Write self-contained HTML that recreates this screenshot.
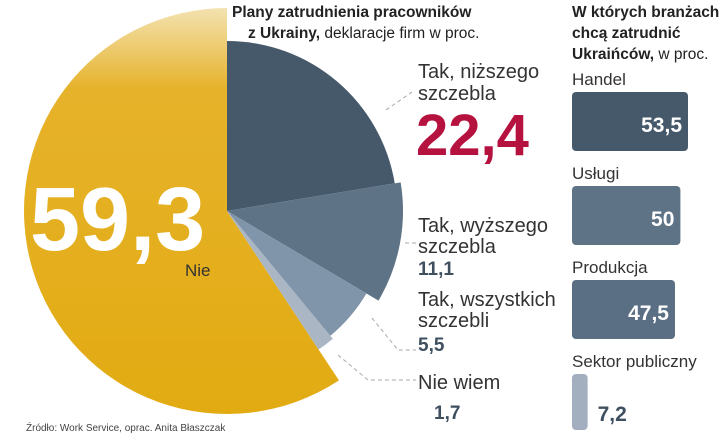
<!DOCTYPE html>
<html><head><meta charset="utf-8"><style>
body{margin:0;background:#fff;width:720px;height:434px;overflow:hidden;font-family:"Liberation Sans",sans-serif}
svg{position:absolute;left:0;top:0}
</style></head><body>
<svg id="c" width="720" height="434">
<defs><linearGradient id="yg" x1="0" y1="0" x2="0" y2="1">
<stop offset="0" stop-color="#f3e2b0"/><stop offset="0.2" stop-color="#e6b22a"/><stop offset="1" stop-color="#e2ab12"/></linearGradient></defs>
<g id="pie"></g>
<g id="bars"></g>
<text x="232" y="17" font-size="15.5" font-weight="bold" fill="#222">Plany zatrudnienia pracowników</text>
<text x="248" y="38" font-size="15.5" fill="#222"><tspan font-weight="bold">z Ukrainy,</tspan> deklaracje firm w proc.</text>
<text x="572" y="17" font-size="15.5" font-weight="bold" fill="#222">W których branżach</text>
<text x="572" y="38" font-size="15.5" font-weight="bold" fill="#222">chcą zatrudnić</text>
<text x="572" y="59" font-size="15.5" fill="#222"><tspan font-weight="bold">Ukraińców,</tspan> w proc.</text>
<text x="30" y="250" font-size="90" font-weight="bold" fill="#fff">59,3</text>
<text x="185" y="276" font-size="17" fill="#333">Nie</text>
<text x="418" y="78" font-size="20" fill="#333">Tak, niższego</text>
<text x="418" y="100" font-size="20" fill="#333">szczebla</text>
<text x="416" y="155" font-size="58" font-weight="bold" fill="#b5123f">22,4</text>
<text x="418" y="232" font-size="20" fill="#333">Tak, wyższego</text>
<text x="418" y="253" font-size="20" fill="#333">szczebla</text>
<text x="418" y="275" font-size="19" font-weight="bold" fill="#3e4f60">11,1</text>
<text x="418" y="306" font-size="20" fill="#333">Tak, wszystkich</text>
<text x="418" y="327" font-size="20" fill="#333">szczebli</text>
<text x="418" y="351" font-size="19" font-weight="bold" fill="#3e4f60">5,5</text>
<text x="418" y="389" font-size="20" fill="#333">Nie wiem</text>
<text x="434" y="419" font-size="19" font-weight="bold" fill="#3e4f60">1,7</text>
<text x="26" y="431" font-size="10" fill="#444">Źródło: Work Service, oprac. Anita Błaszczak</text>
<g stroke="#aaa" stroke-dasharray="4,3" fill="none">
<path d="M386,110 L412,92"/><path d="M405,243 L418,243"/><path d="M372,318 L398,350 L416,350"/><path d="M338,355 L368,380 L416,380"/>
</g>
</svg>
<script>
const pieLabels=["Nie","Tak, niższego szczebla","Tak, wyższego szczebla","Tak, wszystkich szczebli","Nie wiem"];
const pieValues=[59.3,22.4,11.1,5.5,1.7];
const barCategories=["Handel","Usługi","Produkcja","Sektor publiczny"];
const barValues=[53.5,50,47.5,7.2];
const barValueLabels=["53,5","50","47,5","7,2"];
const NS="http://www.w3.org/2000/svg";
const cx=227,cy=211;
const radii=[203,170,176,162,166];
const colors=["url(#yg)","#46596b","#5f7387","#8195aa","#aab6c4"];
const total=pieValues.reduce((a,b)=>a+b,0);
function pt(a,r){return [cx+r*Math.sin(a),cy-r*Math.cos(a)];}
const pie=document.getElementById('pie');
let start=0;
pieValues.forEach((v,i)=>{
  const sweep=v/total*2*Math.PI;
  let a0,a1;
  if(i===0){a0=-sweep;a1=0;}else{a0=start;a1=start+sweep;start=a1;}
  const r=radii[i];
  const p0=pt(a0,r),p1=pt(a1,r);
  const d=`M${cx},${cy} L${p0[0]},${p0[1]} A${r},${r} 0 ${sweep>Math.PI?1:0} 1 ${p1[0]},${p1[1]} Z`;
  const p=document.createElementNS(NS,'path');
  p.setAttribute('d',d);p.setAttribute('fill',colors[i]);
  
  
  pie.appendChild(p);
});
const bars=document.getElementById('bars');
const bx=572,scale=116/53.5,bh=59,step=94;
const bcol=["#46596b","#5f7387","#5b6f84","#a3afbe"];
barCategories.forEach((c,i)=>{
  const y0=65+i*step;
  const t=document.createElementNS(NS,'text');
  t.setAttribute('x',bx);t.setAttribute('y',y0+20);t.setAttribute('font-size','17');t.setAttribute('fill','#333');
  t.textContent=c;
  
  
  bars.appendChild(t);
  const w=barValues[i]*scale;
  const r=document.createElementNS(NS,'rect');
  r.setAttribute('x',bx);r.setAttribute('y',y0+27);r.setAttribute('width',w);r.setAttribute('height',i===3?56:bh);
  r.setAttribute('rx',4);r.setAttribute('fill',bcol[i]);
  
  
  bars.appendChild(r);
  const v=document.createElementNS(NS,'text');
  v.setAttribute('y',y0+67);v.setAttribute('font-size','21');v.setAttribute('font-weight','bold');
  if(w>40){v.setAttribute('x',bx+w-6);v.setAttribute('text-anchor','end');v.setAttribute('fill','#fff');}
  else{v.setAttribute('x',bx+w+10);v.setAttribute('fill','#3e4f60');v.setAttribute('y',y0+74);}
  v.textContent=barValueLabels[i];
  
  
  bars.appendChild(v);
});
</script>
</body></html>
